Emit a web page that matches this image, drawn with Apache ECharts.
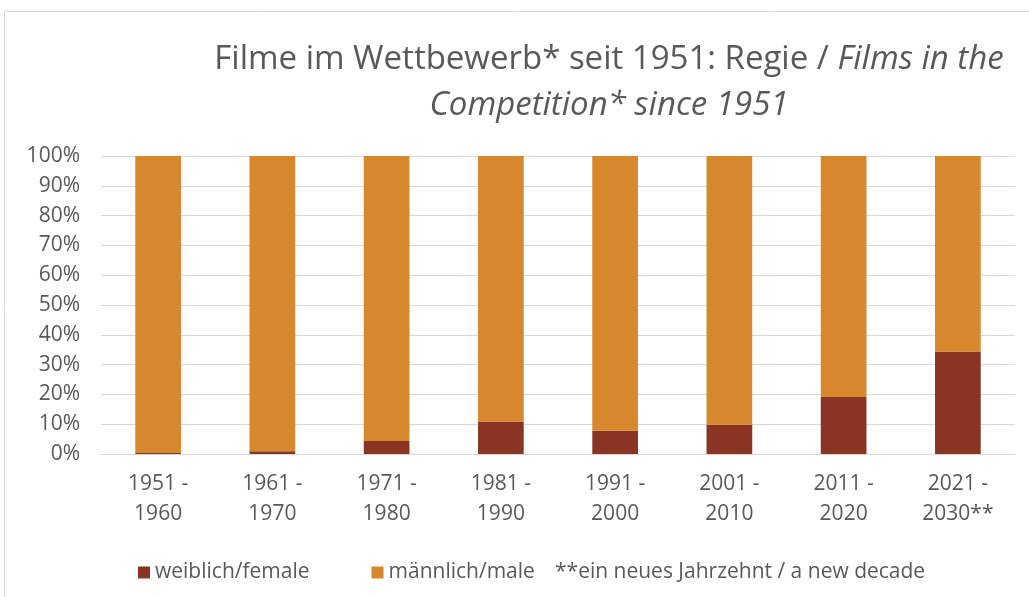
<!DOCTYPE html>
<html>
<head>
<meta charset="utf-8">
<script src="https://cdn.jsdelivr.net/npm/echarts@6/dist/echarts.min.js"></script>
<style>
  html, body { margin: 0; padding: 0; background: #fff; }
  #container { width: 1029px; height: 597px; }
</style>
</head>
<body>
<div id="container"></div>
<script>
var categories = ['1951 -\n1960', '1961 -\n1970', '1971 -\n1980', '1981 -\n1990',
  '1991 -\n2000', '2001 -\n2010', '2011 -\n2020', '2021 -\n2030**'];
var female = [0.3, 0.9, 4.4, 10.9, 7.8, 9.8, 19.1, 34.4];
var male = [99.7, 99.1, 95.6, 89.1, 92.2, 90.2, 80.9, 65.6];

var dom = document.getElementById('container');
var myChart = echarts.init(dom, null, { renderer: 'canvas' });

var font = '"Open Sans", Lato, sans-serif';

var option = {
  animation: false,
  title: {
    text: 'Filme im Wettbewerb* seit 1951: Regie / {i|Films in the}\n{i|Competition* since 1951}',
    left: 604,
    top: 32,
    textAlign: 'center',
    textStyle: {
      fontFamily: font,
      fontSize: 33,
      fontWeight: 'normal',
      color: '#595959',
      lineHeight: 46,
      rich: {
        i: { fontFamily: font, fontSize: 33, fontStyle: 'italic', color: '#595959', lineHeight: 46 }
      }
    }
  },
  legend: {
    left: 133,
    top: 557,
    itemWidth: 12,
    itemHeight: 12,
    itemGap: 62,
    icon: 'rect',
    textStyle: { fontFamily: font, fontSize: 21, color: '#595959' },
    data: ['weiblich/female', 'männlich/male']
  },
  grid: { left: 101, right: 14, top: 156, bottom: 143 },
  xAxis: {
    type: 'category',
    data: categories,
    axisLine: { lineStyle: { color: '#d9d9d9' } },
    axisTick: { show: false },
    axisLabel: { fontFamily: font, fontSize: 21, color: '#595959', lineHeight: 30, margin: 15 }
  },
  yAxis: {
    type: 'value',
    min: 0,
    max: 100,
    interval: 10,
    axisLabel: { formatter: '{value}%', fontFamily: font, fontSize: 21, color: '#595959', margin: 21 },
    splitLine: { lineStyle: { color: '#d9d9d9' } }
  },
  graphic: [
    {
      type: 'rect',
      shape: { x: 4.5, y: 11.5, width: 1040, height: 600 },
      style: { fill: 'none', stroke: '#d9d9d9', lineWidth: 1 },
      silent: true
    },
    {
      type: 'text',
      left: 555,
      top: 562,
      style: { text: '**ein neues Jahrzehnt / a new decade', font: '21px ' + font, fill: '#595959' }
    }
  ],
  series: [
    {
      name: 'weiblich/female',
      type: 'bar',
      stack: 'total',
      barWidth: '40%',
      itemStyle: { color: '#8a3523' },
      data: female
    },
    {
      name: 'männlich/male',
      type: 'bar',
      stack: 'total',
      barWidth: '40%',
      itemStyle: { color: '#d7882d' },
      data: male
    }
  ]
};

myChart.setOption(option);
window.addEventListener('resize', myChart.resize);
</script>
</body>
</html>
